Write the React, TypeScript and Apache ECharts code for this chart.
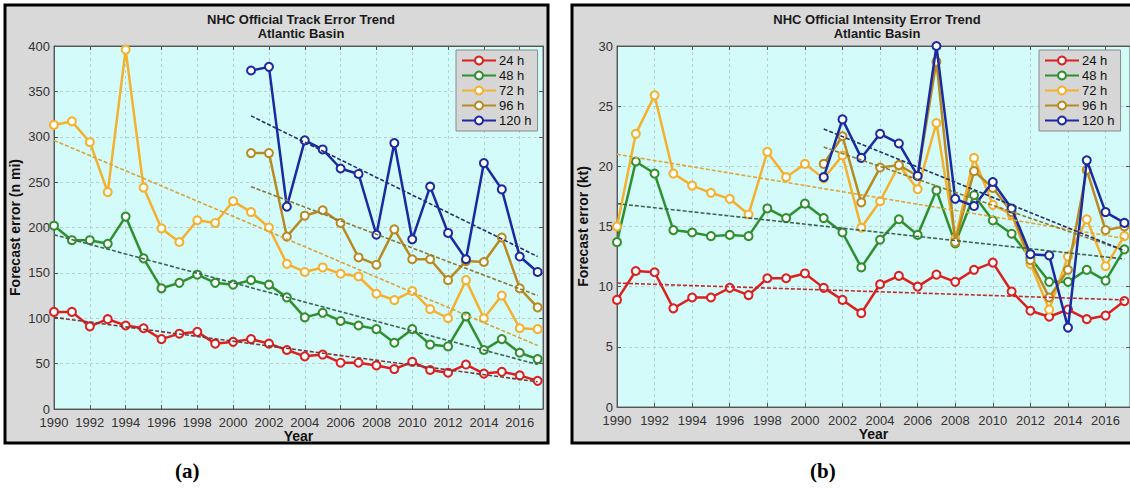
import React, { useEffect, useRef } from "react";
import * as echarts from "echarts";

const years = [1990, 1991, 1992, 1993, 1994, 1995, 1996, 1997, 1998, 1999, 2000, 2001, 2002, 2003, 2004, 2005, 2006, 2007, 2008, 2009, 2010, 2011, 2012, 2013, 2014, 2015, 2016, 2017];
const leadNames = ["24 h", "48 h", "72 h", "96 h", "120 h"];

// Track error (n mi)
const track24 = [107, 107, 91, 99, 92, 89, 77, 83, 85, 72, 74, 77, 72, 65, 58, 60, 51, 51, 48, 44, 52, 43, 40, 49, 39, 41, 37, 31];
const track48 = [202, 186, 186, 182, 212, 166, 133, 139, 148, 139, 137, 142, 137, 123, 101, 106, 97, 92, 88, 73, 88, 71, 69, 102, 65, 77, 62, 55];
const track72 = [313, 317, 294, 239, 396, 244, 199, 184, 208, 205, 229, 217, 200, 160, 151, 156, 149, 146, 127, 120, 130, 110, 100, 142, 100, 125, 89, 88];
const track96 = [null, null, null, null, null, null, null, null, null, null, null, 282, 282, 190, 213, 219, 205, 167, 159, 198, 165, 165, 142, 163, 162, 189, 133, 112];
const track120 = [null, null, null, null, null, null, null, null, null, null, null, 373, 377, 223, 296, 286, 265, 259, 192, 293, 187, 245, 194, 165, 271, 242, 168, 151];

// Track trend lines: [start year, end year] and [start value, end value]
const trackTrendYears = [[1990, 2017], [1990, 2017], [1990, 2017], [2001, 2017], [2001, 2017]];
const trackTrendValues = [[101, 30], [192, 49], [296, 70], [245, 125], [323, 168]];

// Intensity error (kt)
const int24 = [8.9, 11.3, 11.2, 8.2, 9.1, 9.1, 9.9, 9.3, 10.7, 10.7, 11.1, 9.9, 8.9, 7.8, 10.2, 10.9, 10.0, 11.0, 10.4, 11.4, 12.0, 9.6, 8.0, 7.5, 8.1, 7.3, 7.6, 8.8];
const int48 = [13.7, 20.4, 19.4, 14.7, 14.5, 14.2, 14.3, 14.2, 16.5, 15.7, 16.9, 15.7, 14.5, 11.6, 13.9, 15.6, 14.3, 18.0, 13.6, 17.6, 15.5, 14.4, 12.4, 10.4, 10.4, 11.4, 10.5, 13.1];
const int72 = [15.0, 22.7, 25.9, 19.4, 18.4, 17.8, 17.3, 16.0, 21.2, 19.1, 20.2, 19.0, 20.9, 14.9, 17.1, 20.1, 18.1, 23.6, 14.0, 20.7, 16.8, 16.0, 11.9, 8.1, 12.5, 15.6, 11.7, 14.2];
const int96 = [null, null, null, null, null, null, null, null, null, null, null, 20.2, 22.5, 17.0, 19.9, 20.1, 19.2, 28.7, 13.7, 19.6, 18.2, 16.2, 12.2, 9.1, 11.4, 19.7, 14.7, 15.0];
const int120 = [null, null, null, null, null, null, null, null, null, null, null, 19.1, 23.9, 20.7, 22.7, 21.9, 19.2, 30.0, 17.3, 16.7, 18.7, 16.5, 12.7, 12.6, 6.6, 20.5, 16.2, 15.3];

const intTrendYears = [[1990, 2017], [1990, 2017], [1990, 2017], [2001, 2017], [2001, 2017]];
const intTrendValues = [[10.3, 8.9], [16.9, 12.3], [21.0, 14.0], [21.6, 13.0], [23.1, 13.0]];

const trackTicksY = { min: 0, max: 400, interval: 50 };
const intTicksY = { min: 0, max: 30, interval: 5 };

const lineColors = ["#dc1f1f", "#2f8f2f", "#f5b02e", "#b88a22", "#1b2aa3"];
const trendColors = ["#7a3838", "#3d6650", "#d9a53a", "#8c7a34", "#27306e"];
const intTrendColors = ["#c82828", "#3d6650", "#e0a83a", "#8c7a34", "#27306e"];

const FONT = "Liberation Sans, Arial, Helvetica, sans-serif";

function pairs(values: (number | null)[]) {
  return years.map((y, i) => [y, values[i]]);
}

export default function App() {
  const ref = useRef<HTMLDivElement>(null);

  useEffect(() => {
    if (!ref.current) return;
    const chart = echarts.init(ref.current, undefined, { renderer: "svg" });

    const trackData = [track24, track48, track72, track96, track120];
    const intData = [int24, int48, int72, int96, int120];

    const series: any[] = [];
    trackData.forEach((vals, i) => {
      series.push({
        type: "line",
        name: leadNames[i],
        xAxisIndex: 0,
        yAxisIndex: 0,
        data: pairs(vals),
        symbol: "emptyCircle",
        symbolSize: 8,
        lineStyle: { color: lineColors[i], width: 2.5 },
        itemStyle: { color: lineColors[i], borderWidth: 2 },
        z: 3 + i,
      });
    });
    intData.forEach((vals, i) => {
      series.push({
        type: "line",
        name: leadNames[i],
        xAxisIndex: 1,
        yAxisIndex: 1,
        data: pairs(vals),
        symbol: "emptyCircle",
        symbolSize: 8,
        lineStyle: { color: lineColors[i], width: 2.5 },
        itemStyle: { color: lineColors[i], borderWidth: 2 },
        z: 3 + i,
      });
    });
    trackTrendValues.forEach((v, i) => {
      series.push({
        type: "line",
        name: "trend-track-" + i,
        xAxisIndex: 0,
        yAxisIndex: 0,
        data: [[trackTrendYears[i][0], v[0]], [trackTrendYears[i][1], v[1]]],
        symbol: "none",
        lineStyle: { color: trendColors[i], width: 1.6, type: [4, 2] },
        z: 10,
        silent: true,
      });
    });
    intTrendValues.forEach((v, i) => {
      series.push({
        type: "line",
        name: "trend-int-" + i,
        xAxisIndex: 1,
        yAxisIndex: 1,
        data: [[intTrendYears[i][0], v[0]], [intTrendYears[i][1], v[1]]],
        symbol: "none",
        lineStyle: { color: intTrendColors[i], width: 1.6, type: [4, 2] },
        z: 10,
        silent: true,
      });
    });

    const gridLine = { show: true, lineStyle: { color: "#b9cfd0", type: [3, 3], width: 1 } };
    const axisLine = { show: true, onZero: false, lineStyle: { color: "#555", width: 1 } };
    const labelStyle = { color: "#333", fontSize: 13, fontFamily: FONT, lineHeight: 12 };
    const nameStyle = { color: "#111", fontSize: 14, fontWeight: "bold", fontFamily: FONT, lineHeight: 13 };

    const xBase = (gridIndex: number) => ({
      type: "value",
      gridIndex,
      min: 1990,
      max: 2017.3,
      interval: 2,
      axisLine,
      axisTick: { show: true, inside: true, length: 4, lineStyle: { color: "#555" } },
      splitLine: gridLine,
    });

    const legendBase = {
      data: leadNames,
      orient: "vertical",
      top: 50,
      padding: [4, 6, 4, 5],
      itemGap: 2,
      itemWidth: 34,
      itemHeight: 10,
      backgroundColor: "#d6d6d6",
      borderColor: "#8a8a8a",
      borderWidth: 1,
      borderRadius: 0,
      textStyle: { fontSize: 13, color: "#111", fontFamily: FONT, lineHeight: 13, padding: [0, 0, 0, -2] },
      selectedMode: false,
    };

    const option: any = {
      animation: false,
      backgroundColor: "transparent",
      title: [
        {
          text: "NHC Official Track Error Trend\nAtlantic Basin",
          left: 296,
          top: 7,
          textAlign: "center",
          textStyle: { fontSize: 13, fontWeight: "bold", color: "#1a1a1a", fontFamily: FONT, lineHeight: 14 },
        },
        {
          text: "NHC Official Intensity Error Trend\nAtlantic Basin",
          left: 872,
          top: 7,
          textAlign: "center",
          textStyle: { fontSize: 13, fontWeight: "bold", color: "#1a1a1a", fontFamily: FONT, lineHeight: 14 },
        },
      ],
      legend: [
        { ...legendBase, left: 456 },
        { ...legendBase, left: 1039 },
      ],
      grid: [
        { left: 54, top: 46, width: 489, height: 363, show: true, backgroundColor: "#d2fbfa", borderColor: "#666", borderWidth: 1 },
        { left: 617, top: 46, width: 518, height: 361, show: true, backgroundColor: "#d2fbfa", borderColor: "#666", borderWidth: 1 },
      ],
      xAxis: [
        {
          ...xBase(0),
          position: "bottom",
          name: "Year",
          nameLocation: "middle",
          nameGap: 20,
          nameMoveOverlap: false,
          nameTextStyle: nameStyle,
          axisLabel: { ...labelStyle, margin: 7, showMaxLabel: false, formatter: (v: number) => String(v) },
        },
        {
          ...xBase(1),
          position: "bottom",
          name: "Year",
          nameLocation: "middle",
          nameGap: 20,
          nameMoveOverlap: false,
          nameTextStyle: nameStyle,
          axisLabel: { ...labelStyle, margin: 7, showMaxLabel: false, formatter: (v: number) => String(v) },
        },
        { ...xBase(0), position: "top", axisLabel: { show: false }, splitLine: { show: false } },
        { ...xBase(1), position: "top", axisLabel: { show: false }, splitLine: { show: false } },
      ],
      yAxis: [
        {
          type: "value",
          gridIndex: 0,
          ...trackTicksY,
          name: "Forecast error (n mi)",
          nameLocation: "middle",
          nameGap: 33,
          nameMoveOverlap: false,
          nameTextStyle: nameStyle,
          axisLine,
          axisTick: { show: true, inside: true, length: 4, lineStyle: { color: "#555" } },
          axisLabel: { ...labelStyle, margin: 4 },
          splitLine: gridLine,
        },
        {
          type: "value",
          gridIndex: 1,
          ...intTicksY,
          name: "Forecast error (kt)",
          nameLocation: "middle",
          nameGap: 28,
          nameMoveOverlap: false,
          nameTextStyle: nameStyle,
          axisLine,
          axisTick: { show: true, inside: true, length: 4, lineStyle: { color: "#555" } },
          axisLabel: { ...labelStyle, margin: 4 },
          splitLine: gridLine,
        },
        {
          type: "value",
          gridIndex: 0,
          ...trackTicksY,
          position: "right",
          axisLine,
          axisTick: { show: true, inside: true, length: 4, lineStyle: { color: "#555" } },
          axisLabel: { show: false },
          splitLine: { show: false },
        },
        {
          type: "value",
          gridIndex: 1,
          ...intTicksY,
          position: "right",
          axisLine,
          axisTick: { show: true, inside: true, length: 4, lineStyle: { color: "#555" } },
          axisLabel: { show: false },
          splitLine: { show: false },
        },
      ],
      graphic: {
        elements: [
          {
            type: "rect",
            z: -100,
            silent: true,
            shape: { x: 5, y: 5, width: 543, height: 438 },
            style: { fill: "#d9d9d9", stroke: "#000", lineWidth: 3 },
          },
          {
            type: "rect",
            z: -100,
            silent: true,
            shape: { x: 572, y: 5, width: 570, height: 438 },
            style: { fill: "#d9d9d9", stroke: "#000", lineWidth: 3 },
          },
          {
            type: "text",
            left: 175,
            top: 460,
            style: { text: "(a)", fontSize: 21, fontWeight: "bold", fontFamily: "Liberation Serif, Times New Roman, serif", fill: "#000" },
          },
          {
            type: "text",
            left: 810,
            top: 460,
            style: { text: "(b)", fontSize: 21, fontWeight: "bold", fontFamily: "Liberation Serif, Times New Roman, serif", fill: "#000" },
          },
        ],
      },
      series,
    };

    chart.setOption(option);
    return () => {
      chart.dispose();
    };
  }, []);

  return (
    <div
      ref={ref}
      style={{ position: "fixed", left: 0, top: 0, width: 1130, height: 495, background: "#fff" }}
    />
  );
}
